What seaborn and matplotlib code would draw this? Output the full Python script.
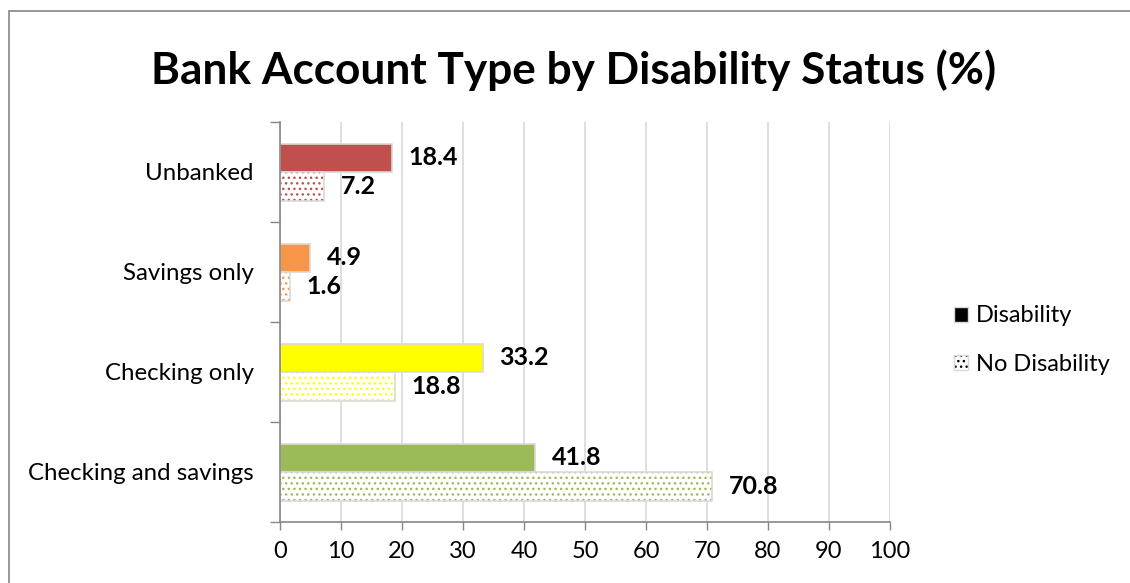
import matplotlib
matplotlib.use("Agg")
import matplotlib.pyplot as plt
import matplotlib.patches as mpatches
import pandas as pd
import seaborn as sns

# Dati
categories = ["Unbanked", "Savings only", "Checking only", "Checking and savings"]
disability = [18.4, 4.9, 33.2, 41.8]
no_disability = [7.2, 1.6, 18.8, 70.8]
series = ["Disability", "No Disability"]
cat_colors = ["#C0504D", "#F79646", "#FFFF00", "#9BBB59"]
x_ticks = list(range(0, 101, 10))

df = pd.DataFrame({
    "category": categories * 2,
    "value": disability + no_disability,
    "status": [series[0]] * 4 + [series[1]] * 4,
})

sns.set_style("white")
plt.rcParams["font.family"] = ["Lato", "DejaVu Sans"]
plt.rcParams["text.color"] = "black"
plt.rcParams["xtick.labelcolor"] = "black"
plt.rcParams["ytick.labelcolor"] = "black"

fig = plt.figure(figsize=(11.3, 5.83), dpi=100)
ax = fig.add_axes([280 / 1130, 1 - 522 / 583, 610 / 1130, 400 / 583])

sns.barplot(data=df, y="category", x="value", hue="status", orient="h",
            order=categories, hue_order=series, width=0.57, ax=ax,
            legend=False, saturation=1)

edge = "#D9D9D9"
for bar, col in zip(ax.containers[0], cat_colors):
    bar.set_facecolor(col)
    bar.set_edgecolor(edge)
    bar.set_linewidth(1.2)
for bar, col in zip(ax.containers[1], cat_colors):
    bar.set_facecolor("white")
    bar.set_edgecolor(edge)
    bar.set_linewidth(1.2)
    bar.set_hatch("...")
    bar._hatch_color = matplotlib.colors.to_rgba(col)

for cont in ax.containers:
    ax.bar_label(cont, fmt="%.1f", padding=12, fontsize=18, fontweight="bold",
                 color="black")

ax.set_xlim(0, 100)
ax.set_ylim(3.5, -0.5)
ax.set_xticks(x_ticks)
ax.set_xlabel("")
ax.set_ylabel("")
ax.tick_params(axis="x", labelsize=17, length=6, width=1, color="#868686",
               direction="out", bottom=True, pad=8)
ax.tick_params(axis="y", which="major", labelsize=17.3, length=0, pad=19)
ax.set_yticks([-0.5, 0.5, 1.5, 2.5, 3.5], minor=True)
ax.tick_params(axis="y", which="minor", length=7, width=1, color="#868686",
               direction="out", left=True)
ax.grid(axis="x", color="#D9D9D9", linewidth=1.2)
ax.set_axisbelow(True)
for s in ["top", "right"]:
    ax.spines[s].set_visible(False)
for s in ["left", "bottom"]:
    ax.spines[s].set_color("#868686")
    ax.spines[s].set_linewidth(1.2)

fig.suptitle("Bank Account Type by Disability Status (%)", fontsize=31.8,
             fontweight="bold", x=574 / 1130, y=1 - 70 / 583, va="center",
             color="black")

h1 = mpatches.Patch(facecolor="black", edgecolor=edge, label=series[0])
h2 = mpatches.Patch(facecolor="white", edgecolor=edge, hatch="...", label=series[1])
h2._hatch_color = (0, 0, 0, 1)
fig.legend(handles=[h1, h2], loc="center left",
           bbox_to_anchor=(933 / 1130, 1 - 340 / 583), frameon=False,
           fontsize=17, handlelength=0.6, handleheight=0.6, handletextpad=0.3,
           labelspacing=1.15)

# Cornice esterna del grafico
fig.patches.append(mpatches.Rectangle((9 / 1130, -0.1), 1.2, 1 - 11 / 583 + 0.1,
                                      transform=fig.transFigure, fill=False,
                                      edgecolor="#868686", linewidth=1.2))

fig.savefig("out.png", dpi=100)
